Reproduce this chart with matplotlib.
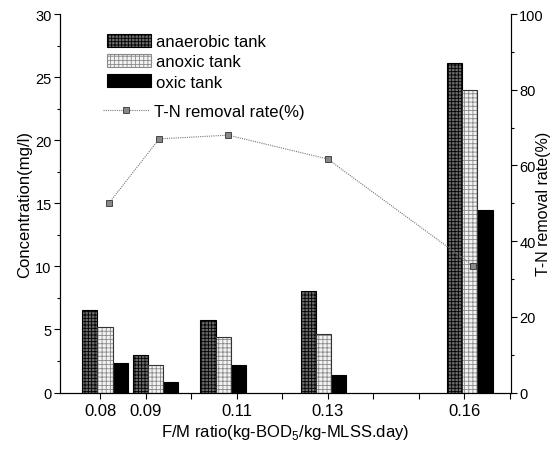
import matplotlib
matplotlib.use("Agg")
import matplotlib.pyplot as plt
import numpy as np
from matplotlib.patches import Patch
from matplotlib.lines import Line2D

plt.rcParams['font.family'] = ['Liberation Sans', 'DejaVu Sans']
plt.rcParams['mathtext.fontset'] = 'custom'
plt.rcParams['mathtext.rm'] = 'Liberation Sans'
plt.rcParams['hatch.linewidth'] = 0.6

# data
fm_labels = ['0.08', '0.09', '0.11', '0.13', '0.16']
group_x = [0.0811, 0.0922, 0.1071, 0.1291, 0.1612]     # centre of each bar group
anaerobic = [6.55, 2.98, 5.73, 8.08, 26.1]
anoxic = [5.22, 2.18, 4.43, 4.62, 24.0]
oxic = [2.34, 0.81, 2.16, 1.36, 14.5]
rate_x = [0.0820, 0.0930, 0.1081, 0.1300, 0.1620]
tn_rate = [50.1, 67.0, 68.0, 61.7, 33.5]

w = 0.00336
gx = np.array(group_x)

fig = plt.figure(figsize=(5.6, 4.52), dpi=100)
ax = fig.add_axes([0.1071, 0.1294, 0.8054, 0.8374])
ax2 = ax.twinx()

ax.bar(gx - w, anaerobic, w, facecolor='#6a6a6a', edgecolor='black',
       hatch='+++++', linewidth=0.8, zorder=2)
ax.bar(gx, anoxic, w, facecolor='#f2f2f2', edgecolor='#8a8a8a',
       hatch='++++', linewidth=0, zorder=2)
ax.bar(gx, anoxic, w, fill=False, edgecolor='#333333', linewidth=0.8, zorder=3)
ax.bar(gx + w, oxic, w, facecolor='black', edgecolor='black',
       linewidth=0.8, zorder=2)

ax2.plot(rate_x, tn_rate, linestyle=(0, (1, 1)), color='#777777', linewidth=0.8,
         marker='s', markersize=5, markerfacecolor='#888888',
         markeredgecolor='#333333', markeredgewidth=0.6)

ax.set_xlim(0.0712, 0.1703)
ax.set_ylim(0, 30)
ax2.set_ylim(0, 100)

ticks = np.round(np.arange(0.08, 0.1701, 0.01), 2)
ax.set_xticks(ticks)
ax.set_xticklabels(['%.2f' % t if '%.2f' % t in fm_labels else '' for t in ticks],
                   fontsize=12)
ax.set_yticks(np.arange(0, 31, 5))
ax.set_yticks(np.arange(0, 30, 2.5), minor=True)
ax2.set_yticks(np.arange(0, 101, 20))
ax2.set_yticks(np.arange(0, 100, 10), minor=True)
ax.tick_params(axis='y', labelsize=10.5, length=4, width=0.8, pad=2)
ax.tick_params(axis='y', which='minor', length=2.5, width=0.8)
ax.tick_params(axis='x', length=4, width=0.8)
ax2.tick_params(axis='y', labelsize=10.5, length=4, width=0.8, pad=2)
ax2.tick_params(axis='y', which='minor', length=2.5, width=0.8)

for a in (ax, ax2):
    a.spines['top'].set_visible(False)
    for s in ('left', 'right', 'bottom'):
        a.spines[s].set_linewidth(0.8)

ax.set_xlabel('F/M ratio(kg-BOD$_5$/kg-MLSS.day)', fontsize=12, labelpad=3)
ax.set_ylabel('Concentration(mg/l)', fontsize=12, va='center')
ax.yaxis.set_label_coords(-0.078, 0.5)
ax2.set_ylabel('T-N removal rate(%)', fontsize=11.5, va='center')
ax2.yaxis.set_label_coords(1.072, 0.5)

h_bars = [Patch(facecolor='#6a6a6a', edgecolor='black', hatch='+++++', linewidth=0.8),
          Patch(facecolor='#f2f2f2', edgecolor='#8a8a8a', hatch='++++', linewidth=0.8),
          Patch(facecolor='black', edgecolor='black', linewidth=0.8)]
leg1 = ax.legend(h_bars, ['anaerobic tank', 'anoxic tank', 'oxic tank'],
                 loc='upper left', bbox_to_anchor=(0.09, 0.965), frameon=False,
                 fontsize=12, handlelength=2.6, handleheight=0.85,
                 labelspacing=0.28, handletextpad=0.35, borderaxespad=0)
ax.add_artist(leg1)
h_line = [Line2D([], [], linestyle=(0, (1, 1)), color='#777777', linewidth=0.8,
                 marker='s', markersize=5, markerfacecolor='#888888',
                 markeredgecolor='#333333', markeredgewidth=0.6)]
ax.legend(h_line, ['T-N removal rate(%)'], loc='upper left',
          bbox_to_anchor=(0.08, 0.78), frameon=False, fontsize=12,
          handlelength=2.8, handletextpad=0.3, borderaxespad=0)

fig.savefig('out.png', dpi=100)
